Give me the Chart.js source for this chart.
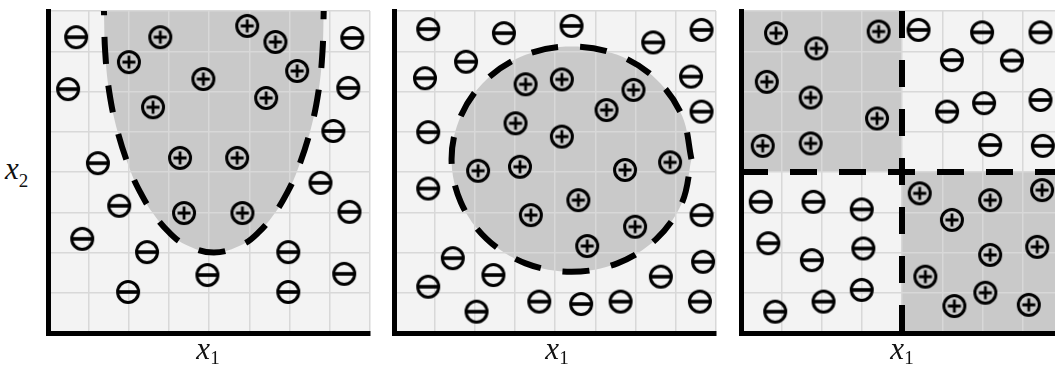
<!DOCTYPE html>
<html>
<head>
<meta charset="utf-8">
<script src="https://cdn.jsdelivr.net/npm/chart.js@4.4.1/dist/chart.umd.min.js"></script>
<style>
  html, body { margin: 0; padding: 0; background: #fff; overflow: hidden; width: 1055px; height: 372px; }
  canvas { position: absolute; top: 5px; }
  .lbl { position: absolute; font-family: "Liberation Serif", "DejaVu Serif", serif; font-style: italic; font-size: 31px; line-height: 31px; color: #111; white-space: nowrap; }
  .lbl span { font-style: normal; font-size: 19px; position: relative; }
  .xl { width: 80px; text-align: center; top: 333px; }
</style>
</head>
<body>
<canvas id="panel1" width="334" height="334" style="left:42px"></canvas>
<canvas id="panel2" width="334" height="334" style="left:388px"></canvas>
<canvas id="panel3" width="334" height="334" style="left:735px"></canvas>
<div class="lbl" style="left:5px; top:153px">x<span style="top:8px">2</span></div>
<div class="lbl xl" style="left:168px">x<span style="top:5px">1</span></div>
<div class="lbl xl" style="left:517px">x<span style="top:5px">1</span></div>
<div class="lbl xl" style="left:862px">x<span style="top:5px">1</span></div>
<script>
// axis range (grid of 8 x 8 cells)
const axisMin = 0;
const axisMax = 8;

// panel 1 - curved (U shaped) boundary
const p1PlusX  = [2.79, 2.01, 3.86, 4.95, 5.65, 6.19, 5.42, 2.61, 3.28, 4.70, 3.38, 4.83];
const p1PlusY  = [7.35, 6.73, 6.31, 7.63, 7.23, 6.51, 5.84, 5.61, 4.35, 4.35, 2.98, 2.98];
const p1MinusX = [0.70, 0.50, 1.24, 1.77, 0.85, 2.46, 1.99, 3.96, 5.97, 5.97, 7.36, 7.49, 6.77, 7.09, 7.46, 7.56];
const p1MinusY = [7.35, 6.06, 4.22, 3.16, 2.34, 2.01, 1.02, 1.44, 2.01, 1.02, 1.47, 3.01, 3.73, 5.02, 6.09, 7.33];
const p1EdgeX  = [1.39, 1.42, 1.52, 1.73, 2.06, 2.29, 2.59, 3.01, 3.41, 4.12, 4.83, 5.23, 5.65, 5.95, 6.18, 6.51, 6.72, 6.82, 6.85];
const p1EdgeY  = [8.00, 7.00, 6.00, 5.00, 4.00, 3.50, 3.00, 2.50, 2.20, 2.00, 2.20, 2.50, 3.00, 3.50, 4.00, 5.00, 6.00, 7.00, 8.00];

// panel 2 - circular boundary
const p2PlusX  = [3.27, 4.17, 5.95, 5.28, 3.02, 4.17, 2.09, 3.13, 5.74, 6.86, 4.58, 3.40, 5.99, 4.80];
const p2PlusY  = [6.18, 6.30, 6.04, 5.54, 5.21, 4.88, 4.03, 4.13, 4.05, 4.24, 3.30, 2.93, 2.64, 2.16];
const p2MinusX = [0.85, 2.73, 4.41, 6.44, 7.64, 1.79, 0.77, 7.38, 7.64, 0.85, 0.85, 7.64, 7.68, 1.46, 2.47, 0.85, 2.05, 3.61, 4.65, 5.63, 6.63, 7.60];
const p2MinusY = [7.55, 7.45, 7.63, 7.22, 7.53, 6.74, 6.33, 6.37, 5.50, 4.99, 3.59, 2.93, 1.77, 1.86, 1.44, 1.15, 0.53, 0.78, 0.72, 0.78, 1.40, 0.78];
const p2EdgeX  = [7.39, 7.16, 6.52, 5.55, 4.41, 3.27, 2.30, 1.66, 1.43, 1.66, 2.30, 3.27, 4.41, 5.55, 6.52, 7.16, 7.39];
const p2EdgeY  = [4.32, 5.39, 6.30, 6.91, 7.12, 6.91, 6.30, 5.39, 4.32, 3.25, 2.34, 1.73, 1.52, 1.73, 2.34, 3.25, 4.32];

// panel 3 - axis aligned split (quadrants)
const p3PlusX  = [0.87, 1.87, 3.42, 0.64, 1.73, 3.38, 0.54, 1.73, 4.44, 6.19, 7.48, 5.24, 6.19, 7.36, 4.58, 6.07, 5.30, 7.15];
const p3PlusY  = [7.45, 7.07, 7.49, 6.24, 5.85, 5.33, 4.65, 4.71, 3.47, 3.30, 3.55, 2.81, 1.94, 2.14, 1.40, 1.00, 0.67, 0.70];
const p3MinusX = [4.41, 5.99, 7.44, 5.24, 6.73, 5.12, 6.04, 7.44, 6.19, 7.50, 0.49, 1.80, 3.00, 0.68, 3.04, 1.76, 3.00, 2.05, 0.85];
const p3MinusY = [7.53, 7.47, 7.47, 6.78, 6.77, 5.50, 5.71, 5.79, 4.67, 4.65, 3.26, 3.26, 3.07, 2.23, 2.10, 1.81, 1.07, 0.78, 0.53];
const p3SplitX = 4;
const p3SplitY = 4;

const plotBg = '#f3f3f3';
const shadeColor = '#c9c9c9';
const gridColor = '#d8d8d8';

function pts(xs, ys) {
    return xs.map((x, i) => ({x: x, y: ys[i]}));
}

// circled plus / minus marker
function makeSign(plus) {
    const c = document.createElement('canvas');
    c.width = 28;
    c.height = 28;
    const g = c.getContext('2d');
    g.strokeStyle = '#000';
    g.lineWidth = 3;
    g.beginPath();
    g.arc(14, 14, 10.5, 0, Math.PI * 2);
    g.stroke();
    g.beginPath();
    if (plus) {
        g.lineWidth = 2.8;
        g.moveTo(7.5, 14); g.lineTo(20.5, 14);
        g.moveTo(14, 7.5); g.lineTo(14, 20.5);
    } else {
        g.lineWidth = 3.6;
        g.moveTo(5, 14); g.lineTo(23, 14);
    }
    g.stroke();
    return c;
}
const plusImg = makeSign(true);
const minusImg = makeSign(false);

// paints plot background + shaded regions under the grid
const shadePlugin = {
    id: 'shade',
    beforeDraw(chart) {
        const ctx = chart.ctx;
        const a = chart.chartArea;
        ctx.save();
        ctx.fillStyle = plotBg;
        ctx.fillRect(a.left, a.top, a.right - a.left, a.bottom - a.top);
        ctx.beginPath();
        ctx.rect(a.left, a.top, a.right - a.left, a.bottom - a.top);
        ctx.clip();
        ctx.fillStyle = shadeColor;
        chart.data.datasets.forEach((ds, i) => {
            if (!ds.shade) return;
            const line = chart.getDatasetMeta(i).dataset;
            if (!line) return;
            line.updateControlPoints(a, 'x');
            ctx.beginPath();
            line.path(ctx);
            ctx.closePath();
            ctx.fill();
        });
        ctx.restore();
    }
};

// the marker image is drawn whatever the radius, keep radius small so
// chart.js does not pad the chart area for it
function signSet(data, img) {
    return {
        data: data,
        showLine: false,
        pointStyle: img,
        pointRadius: 1,
        pointBorderWidth: 0,
        clip: false
    };
}

function edgeSet(data, opts) {
    return Object.assign({
        data: data,
        showLine: true,
        shade: false,
        fill: false,
        borderColor: '#000',
        borderWidth: 6,
        borderDash: [27, 22],
        borderCapStyle: 'butt',
        pointRadius: 0,
        tension: 0
    }, opts);
}

function axis(horizontal) {
    return {
        type: 'linear',
        min: axisMin,
        max: axisMax,
        ticks: {display: false, stepSize: 1},
        grid: {color: gridColor, lineWidth: 1.5, drawTicks: false},
        border: {display: true, color: '#000', width: 5},
        afterFit: horizontal ? (s) => { s.height = 0; } : (s) => { s.width = 0; }
    };
}

function makeChart(id, datasets) {
    return new Chart(document.getElementById(id), {
        type: 'scatter',
        data: {datasets: datasets},
        options: {
            responsive: false,
            animation: false,
            events: [],
            layout: {padding: 6},
            plugins: {legend: {display: false}, tooltip: {enabled: false}},
            scales: {x: axis(true), y: axis(false)}
        },
        plugins: [shadePlugin]
    });
}

// panel 1
makeChart('panel1', [
    signSet(pts(p1PlusX, p1PlusY), plusImg),
    signSet(pts(p1MinusX, p1MinusY), minusImg),
    edgeSet(pts(p1EdgeX, p1EdgeY), {shade: true, tension: 0.4, borderDashOffset: 23})
]);

// panel 2
makeChart('panel2', [
    signSet(pts(p2PlusX, p2PlusY), plusImg),
    signSet(pts(p2MinusX, p2MinusY), minusImg),
    edgeSet(pts(p2EdgeX, p2EdgeY), {shade: true, tension: 0.35})
]);

// panel 3
makeChart('panel3', [
    signSet(pts(p3PlusX, p3PlusY), plusImg),
    signSet(pts(p3MinusX, p3MinusY), minusImg),
    edgeSet([{x: axisMin, y: p3SplitY}, {x: axisMax, y: p3SplitY}], {}),
    edgeSet([{x: p3SplitX, y: axisMax}, {x: p3SplitX, y: axisMin}], {}),
    edgeSet([{x: axisMin, y: p3SplitY}, {x: axisMin, y: axisMax}, {x: p3SplitX, y: axisMax}, {x: p3SplitX, y: p3SplitY}],
        {shade: true, borderColor: 'rgba(0,0,0,0)', borderWidth: 1}),
    edgeSet([{x: p3SplitX, y: axisMin}, {x: p3SplitX, y: p3SplitY}, {x: axisMax, y: p3SplitY}, {x: axisMax, y: axisMin}],
        {shade: true, borderColor: 'rgba(0,0,0,0)', borderWidth: 1})
]);
</script>
</body>
</html>
